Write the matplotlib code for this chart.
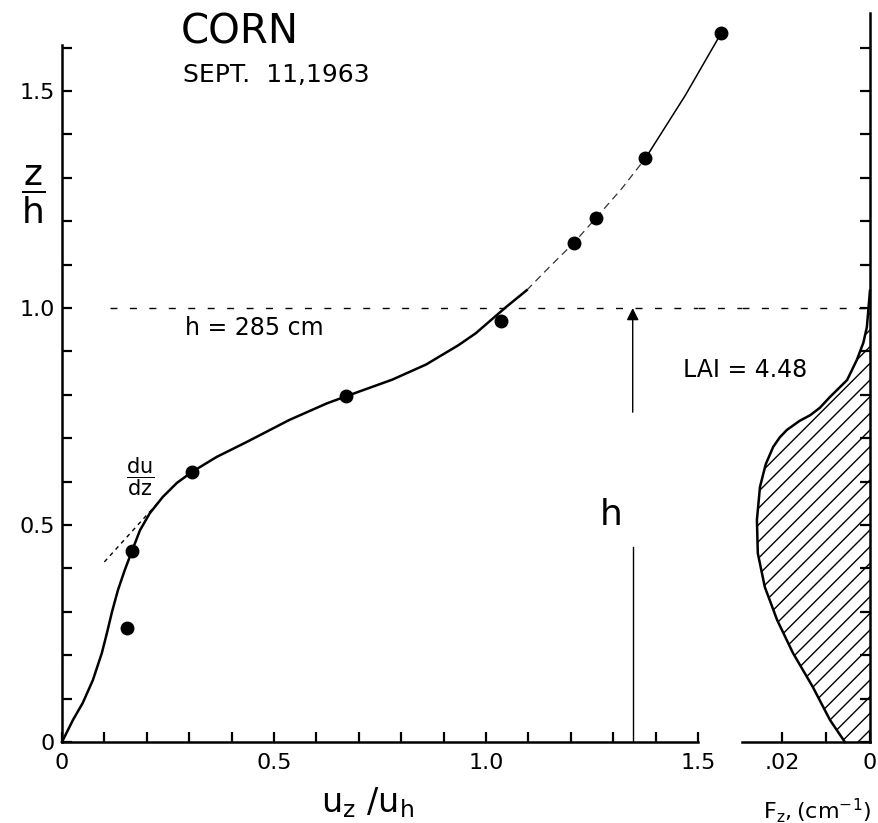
import matplotlib
matplotlib.use("Agg")
import matplotlib.pyplot as plt
import numpy as np

plt.rcParams['font.family'] = ['DejaVu Sans']
plt.rcParams['mathtext.fontset'] = 'dejavusans'
plt.rcParams['hatch.linewidth'] = 1.0

# points mesures (u_z/u_h, z/h)
u_pts = [0.153, 0.165, 0.306, 0.671, 1.035, 1.207, 1.259, 1.376, 1.555]
z_pts = [0.263, 0.440, 0.622, 0.797, 0.970, 1.150, 1.207, 1.345, 1.634]

# courbe du profil (partie pleine)
u_curve = [0, 0.026, 0.049, 0.073, 0.094, 0.106, 0.118, 0.132, 0.148, 0.165,
           0.184, 0.207, 0.238, 0.271, 0.306, 0.365, 0.435, 0.536, 0.624,
           0.671, 0.779, 0.859, 0.936, 0.976, 1.047, 1.096]
z_curve = [0, 0.051, 0.090, 0.143, 0.205, 0.251, 0.300, 0.350, 0.396, 0.440,
           0.488, 0.527, 0.565, 0.597, 0.622, 0.657, 0.691, 0.742, 0.780,
           0.797, 0.835, 0.870, 0.915, 0.942, 1.002, 1.041]

# partie haute (tiretee puis pleine)
u_up_dash = [1.096, 1.15, 1.207, 1.259, 1.32, 1.376]
z_up_dash = [1.041, 1.095, 1.150, 1.207, 1.275, 1.345]
u_top = [1.376, 1.47, 1.555]
z_top = [1.345, 1.49, 1.634]

# tangente du/dz
u_tan = [0.10, 0.225]
z_tan = [0.415, 0.55]

# densite foliaire F_z (cm-1) en fonction de z/h
fz = [0.0057, 0.0091, 0.0130, 0.0175, 0.0211, 0.0239, 0.0255, 0.0257, 0.0250,
      0.0237, 0.0220, 0.0205, 0.0189, 0.0160, 0.0136, 0.0114, 0.0091, 0.0052,
      0.0030, 0.0015, 0.0007, 0.0]
fz_h = [0.0, 0.051, 0.127, 0.205, 0.281, 0.357, 0.435, 0.512, 0.588,
        0.640, 0.680, 0.702, 0.719, 0.740, 0.753, 0.770, 0.795, 0.834,
        0.880, 0.920, 0.956, 1.04]

h_arrow_x = 1.346
y_top = 1.68

fig = plt.figure(figsize=(8.79, 8.23), dpi=100)
ax = fig.add_axes([0.0705, 0.0984, 0.7236, 0.8859])
ax2 = fig.add_axes([0.8441, 0.0984, 0.1456, 0.8859])

# ---- panneau gauche
ax.plot(u_curve, z_curve, color='k', lw=1.8, clip_on=False,
        solid_joinstyle='round')
ax.plot(u_up_dash, z_up_dash, color='k', lw=0.9, ls=(0, (6, 4)), alpha=0.8)
ax.plot(u_top, z_top, color='k', lw=1.1, clip_on=False)
ax.plot(u_tan, z_tan, color='k', lw=1.0, ls=(0, (3, 3)))
ax.plot(u_pts, z_pts, 'o', color='k', ms=9, clip_on=False)

ax.plot([0.113, 1.5], [1.0, 1.0], color='k', lw=1.0, ls=(0, (5, 9)))
ax.plot([1.5, 1.9], [1.0, 1.0], color='k', lw=1.0, ls=(0, (5, 9)), clip_on=False)

# fleche h
ax.plot([h_arrow_x, h_arrow_x], [0, 0.449], color='k', lw=1.0)
ax.annotate('', xy=(h_arrow_x, 1.0), xytext=(h_arrow_x, 0.76),
            arrowprops=dict(arrowstyle='-|>', color='k', lw=1.0,
                            mutation_scale=18, shrinkA=0, shrinkB=0))
ax.text(1.296, 0.523, 'h', fontsize=26, ha='center', va='center')

ax.set_xlim(0, 1.5)
ax.set_ylim(0, y_top)
for s in ['top', 'right']:
    ax.spines[s].set_visible(False)
ax.spines['left'].set_bounds(0, 1.606)
ax.spines['bottom'].set_bounds(0, 1.5)
ax.spines['left'].set_linewidth(1.8)
ax.spines['bottom'].set_linewidth(1.8)

ax.set_xticks([0, 0.5, 1.0, 1.5])
ax.set_xticklabels(['0', '0.5', '1.0', '1.5'])
ax.set_xticks(np.arange(0, 1.51, 0.1), minor=True)
ax.set_yticks([0, 0.5, 1.0, 1.5])
ax.set_yticklabels(['0', '0.5', '1.0', '1.5'])
ax.set_yticks(np.arange(0, 1.61, 0.1), minor=True)
ax.tick_params(which='both', direction='in', length=7, width=1.6,
               labelsize=16, pad=5)
ax.tick_params(axis='x', which='both', pad=8)

ax.text(0.419, 1.634, 'CORN', fontsize=29, ha='center', va='center')
ax.text(0.505, 1.537, 'SEPT.  11,1963', fontsize=18, ha='center', va='center')
ax.text(0.454, 0.954, 'h = 285 cm', fontsize=17, ha='center', va='center')
ax.text(0.184, 0.612, r'$\dfrac{\mathregular{du}}{\mathregular{dz}}$',
        fontsize=15, ha='center', va='center')
ax.text(-0.068, 1.26, r'$\dfrac{\mathregular{z}}{\mathregular{h}}$',
        fontsize=26, ha='center', va='center', clip_on=False)
ax.text(0.72, -0.14, r'$\mathregular{u_z\ /u_h}$', fontsize=24, ha='center',
        va='center', clip_on=False)

# ---- panneau droit
ax2.fill_betweenx(fz_h, fz, 0, facecolor='none', edgecolor='k', hatch='//',
                  linewidth=0)
ax2.plot(fz, fz_h, color='k', lw=1.8, clip_on=False, solid_joinstyle='round')
ax2.axhline(1.0, color='k', lw=1.0, ls=(0, (5, 9)))
ax2.set_xlim(0.0291, 0)
ax2.set_ylim(0, y_top)
for s in ['top', 'left']:
    ax2.spines[s].set_visible(False)
ax2.spines['right'].set_linewidth(1.8)
ax2.spines['bottom'].set_linewidth(1.8)
ax2.yaxis.tick_right()
ax2.set_yticks(np.arange(0, 1.61, 0.1))
ax2.set_yticklabels([])
ax2.set_xticks([0, 0.01, 0.02])
ax2.set_xticklabels(['0', '', '.02'])
ax2.tick_params(which='both', direction='in', length=7, width=1.6,
                labelsize=16, pad=8)
ax2.text(0.0284, 0.857, 'LAI = 4.48', fontsize=17, ha='center', va='center',
         clip_on=False)
ax2.text(0.0121, -0.157, r'$\mathregular{F_{z},(cm^{-1})}$', fontsize=16,
         ha='center', va='center', clip_on=False)

fig.savefig('out.png', dpi=100, facecolor='white')
